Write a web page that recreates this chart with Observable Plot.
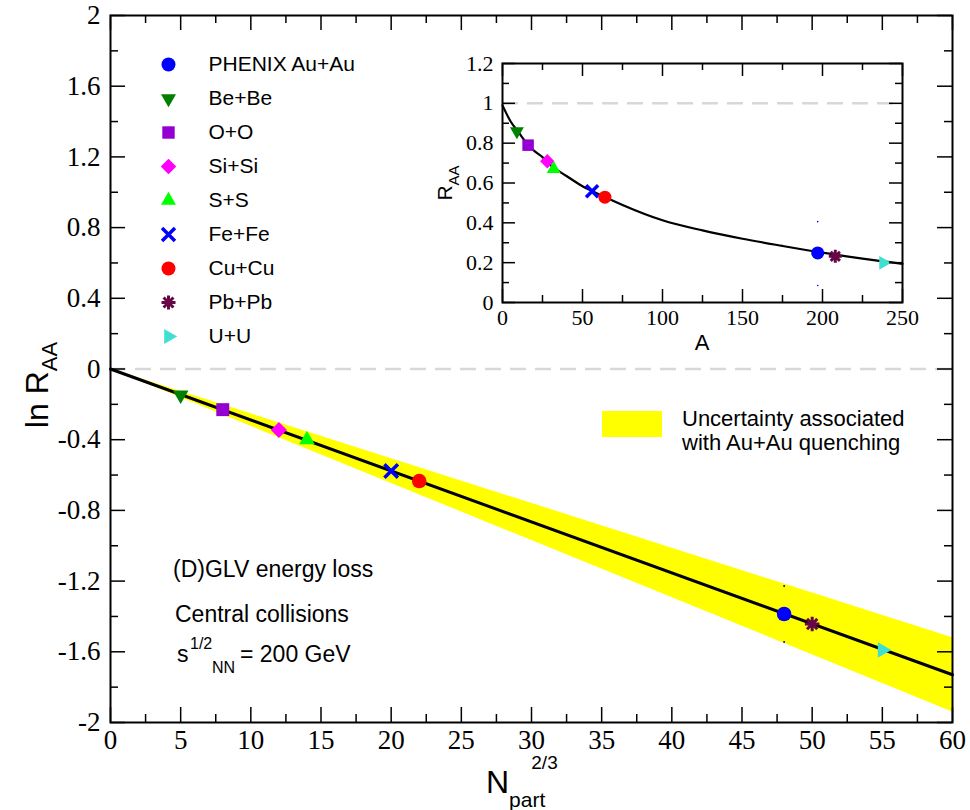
<!DOCTYPE html>
<html><head><meta charset="utf-8">
<script src="https://cdn.jsdelivr.net/npm/d3@7"></script>
<script src="https://cdn.jsdelivr.net/npm/@observablehq/plot@0.6"></script>
<style>
body{margin:0;background:#fff;}
#wrap{position:relative;width:970px;height:810px;overflow:hidden;}
#wrap > svg, #wrap > div{position:absolute;}
</style></head><body><div id="wrap"></div>
<script>
// ---------- data ----------
const species = ["PHENIX Au+Au","Be+Be","O+O","Si+Si","S+S","Fe+Fe","Cu+Cu","Pb+Pb","U+U"];
const npart23 = [48, 5, 8, 12, 14, 20, 22, 50, 55];
const lnRAA   = [-1.386, -0.147, -0.23, -0.345, -0.40, -0.577, -0.634, -1.443, -1.59];
const massA   = [197, 9, 16, 28, 32, 56, 64, 208, 238];
const rAA     = [0.249, 0.86, 0.79, 0.709, 0.67, 0.559, 0.529, 0.232, 0.199];
const fitX  = [0, 60];
const fitLn = [0, -1.73];
const bandX    = [0, 60];
const bandLow  = [0, -1.94];
const bandHigh = [0, -1.52];
const curveA = [0, 5, 10, 15, 20, 25, 30, 40, 50, 60, 75, 100, 125, 150, 175, 200, 225, 250];
const curveR = [0.99, 0.91, 0.855, 0.80, 0.76, 0.73, 0.69, 0.635, 0.584, 0.545, 0.49, 0.413, 0.362, 0.32, 0.284, 0.25, 0.22, 0.194];
const auErrLn = [-1.228, -1.545];
const auErrR  = [0.406, 0.085];
const xTicksMain = [0,5,10,15,20,25,30,35,40,45,50,55,60];
const yTicksMain = [-2,-1.6,-1.2,-0.8,-0.4,0,0.4,0.8,1.2,1.6,2];
const xTicksInset = [0,50,100,150,200,250];
const yTicksInset = [0,0.2,0.4,0.6,0.8,1,1.2];

// ---------- styles ----------
const triangle = ang => ({draw(ctx, size){
  const R = Math.sqrt(size/Math.PI)*1.24;
  for (let i=0;i<3;i++){const a=ang+i*2*Math.PI/3; const x=R*Math.cos(a), y=R*Math.sin(a); i?ctx.lineTo(x,y):ctx.moveTo(x,y);}
  ctx.closePath();
}});
const triDown = triangle(Math.PI/2), triUp = triangle(-Math.PI/2), triRight = triangle(0);
const star8 = {draw(ctx, size){
  const R = Math.sqrt(size/Math.PI);
  for (let i=0;i<4;i++){const a=i*Math.PI/4; ctx.moveTo(R*Math.cos(a),R*Math.sin(a)); ctx.lineTo(-R*Math.cos(a),-R*Math.sin(a));}
}};
const styles = [
  {sym:"circle", fill:"#0000ff"},
  {sym:triDown, fill:"#008000"},
  {sym:"square", fill:"#9400d3"},
  {sym:"diamond2", fill:"#ff00ff"},
  {sym:triUp, fill:"#00ff00"},
  {sym:"times", stroke:"#0000ff", sw:3.5, rs:0.85},
  {sym:"circle", fill:"#ff0000"},
  {sym:star8, stroke:"#670748", sw:3},
  {sym:triRight, fill:"#40e0d0"}
];
const symDot = (data, i, r, opts) => Plot.dot(data, {...opts, symbol:styles[i].sym, r: r*(styles[i].rs||1),
  fill: styles[i].fill || "none", stroke: styles[i].stroke || "none", strokeWidth: styles[i].sw || 0});

const wrap = document.getElementById("wrap");
const serifCss = "'Liberation Serif', 'DejaVu Serif', serif";
const sans = "Liberation Sans";
const minorOf = t => t.slice(1).map((v,i)=>(v+t[i])/2);
const styleTicks = (svg, size) => {
  svg.querySelectorAll('g[aria-label$="tick label"]').forEach(g => {
    g.setAttribute("font-size", size); g.setAttribute("font-family", serifCss);
    g.style.fontSize = size + "px"; g.style.fontFamily = serifCss;
    g.querySelectorAll("text").forEach(t => {t.style.fontSize = size + "px"; t.style.fontFamily = serifCss; t.setAttribute("fill", "#000");});
  });
};

// ---------- main plot ----------
const W=970, H=810, mL=110, mR=18, mT=15, mB=88;
const pw = W-mL-mR, ph = H-mT-mB;
const mainPts = species.map((s,i)=>({s, x:npart23[i], y:lnRAA[i]}));
const band = bandX.map((x,i)=>({x, lo:bandLow[i], hi:bandHigh[i]}));
const fit = fitX.map((x,i)=>({x, y:fitLn[i]}));
const tickMarks = (xt, yt, pwid, phei, maj, min) => {
  const xm = minorOf(xt), ym = minorOf(yt), o = {stroke:"#000", strokeWidth:1.5};
  return [
    Plot.tickY(yt, {y:d=>d, insetRight:pwid-maj, ...o}),
    Plot.tickY(yt, {y:d=>d, insetLeft:pwid-maj, ...o}),
    Plot.tickY(ym, {y:d=>d, insetRight:pwid-min, ...o}),
    Plot.tickY(ym, {y:d=>d, insetLeft:pwid-min, ...o}),
    Plot.tickX(xt, {x:d=>d, insetTop:phei-maj, ...o}),
    Plot.tickX(xt, {x:d=>d, insetBottom:phei-maj, ...o}),
    Plot.tickX(xm, {x:d=>d, insetTop:phei-min, ...o}),
    Plot.tickX(xm, {x:d=>d, insetBottom:phei-min, ...o})
  ];
};
const main = Plot.plot({
  width:W, height:H, marginLeft:mL, marginRight:mR, marginTop:mT, marginBottom:mB,
  style:{background:"transparent", overflow:"visible"},
  x:{domain:[0,60]}, y:{domain:[-2,2]},
  marks:[
    Plot.areaY(band, {x:"x", y1:"lo", y2:"hi", fill:"#ffff00"}),
    Plot.ruleY([0], {stroke:"#d8d8d8", strokeWidth:2.5, strokeDasharray:"16,9"}),
    Plot.line(fit, {x:"x", y:"y", stroke:"#000", strokeWidth:3}),
    Plot.dot(auErrLn, {x:()=>npart23[0], y:d=>d, r:1, fill:"#0000ff"}),
    ...mainPts.map((p,i)=>symDot([p], i, 7.3, {x:"x", y:"y"})),
    ...tickMarks(xTicksMain, yTicksMain, pw, ph, 15, 8),
    Plot.axisX({ticks:xTicksMain, tickSize:0, tickPadding:7, tickFormat:d=>String(d), label:null}),
    Plot.axisY({ticks:yTicksMain, tickSize:0, tickPadding:10, tickFormat:d=>String(d), label:null}),
    Plot.frame({stroke:"#000", strokeWidth:2})
  ]
});
styleTicks(main, 27);
wrap.appendChild(main);

// ---------- legend (species) ----------
const legend = Plot.plot({
  width:450, height:360, marginLeft:168, marginRight:0, marginTop:0, marginBottom:0,
  style:{background:"transparent", overflow:"visible"},
  y:{type:"point", domain:species, range:[63, 337], padding:0, axis:null},
  marks:[
    ...species.map((s,i)=>symDot([s], i, 7, {y:d=>d, frameAnchor:"left"})),
    Plot.text(species, {y:d=>d, text:d=>d, frameAnchor:"left", dx:40, textAnchor:"start", fontSize:21, fontFamily:sans, fill:"#000"})
  ]
});
legend.style.left="0px"; legend.style.top="0px";
wrap.appendChild(legend);

// ---------- inset ----------
const iW=460, iH=300, iL=52, iR=8, iT=10, iB=51;
const curve = curveA.map((a,i)=>({a, r:curveR[i]}));
const insetPts = species.map((s,i)=>({s, a:massA[i], r:rAA[i]}));
const inset = Plot.plot({
  width:iW, height:iH, marginLeft:iL, marginRight:iR, marginTop:iT, marginBottom:iB,
  style:{background:"transparent", overflow:"visible"},
  x:{domain:[0,250]}, y:{domain:[0,1.2]},
  marks:[
    Plot.ruleY([1], {stroke:"#d8d8d8", strokeWidth:2.5, strokeDasharray:"16,9"}),
    Plot.line(curve, {x:"a", y:"r", stroke:"#000", strokeWidth:2.2, curve:"monotone-x"}),
    Plot.dot(auErrR, {x:()=>massA[0], y:d=>d, r:0.8, fill:"#0000ff"}),
    ...insetPts.map((p,i)=>symDot([p], i, 6.5, {x:"a", y:"r"})),
    ...tickMarks(xTicksInset, yTicksInset, iW-iL-iR, iH-iT-iB, 13, 7),
    Plot.axisX({ticks:xTicksInset, tickSize:0, tickPadding:7, tickFormat:d=>String(d), label:null}),
    Plot.axisY({ticks:yTicksInset, tickSize:0, tickPadding:9, tickFormat:d=>String(d), label:null}),
    Plot.frame({stroke:"#000", strokeWidth:2})
  ]
});
styleTicks(inset, 22);
inset.style.left="450px"; inset.style.top="53px";
wrap.appendChild(inset);

// ---------- text overlay ----------
const ns = "http://www.w3.org/2000/svg";
const ov = document.createElementNS(ns, "svg");
ov.setAttribute("width", W); ov.setAttribute("height", H);
ov.style.left="0px"; ov.style.top="0px"; ov.style.pointerEvents="none";
ov.setAttribute("font-family", "Liberation Sans, Arial, sans-serif");
ov.innerHTML = `
  <text transform="translate(48,385) rotate(-90)" text-anchor="middle" font-size="32">ln R<tspan font-size="22" dy="9">AA</tspan></text>
  <text x="486" y="793" font-size="32">N<tspan font-size="21" dy="14">part</tspan><tspan font-size="19" dx="-14" dy="-38">2/3</tspan></text>
  <text transform="translate(452,183) rotate(-90)" text-anchor="middle" font-size="21">R<tspan font-size="15" dy="7">AA</tspan></text>
  <text x="702" y="350" text-anchor="middle" font-size="22">A</text>
  <text x="173" y="577" font-size="23">(D)GLV energy loss</text>
  <text x="175" y="622" font-size="23">Central collisions</text>
  <text x="177" y="662" font-size="23">s</text>
  <text x="190" y="649" font-size="16">1/2</text>
  <text x="212" y="673" font-size="16">NN</text>
  <text x="240" y="662" font-size="23">= 200 GeV</text>
  <rect x="602" y="411" width="60" height="26" fill="#ffff00"></rect>
  <text x="682" y="426" font-size="22">Uncertainty associated</text>
  <text x="682" y="450" font-size="22">with Au+Au quenching</text>
`;
wrap.appendChild(ov);
</script></body></html>
